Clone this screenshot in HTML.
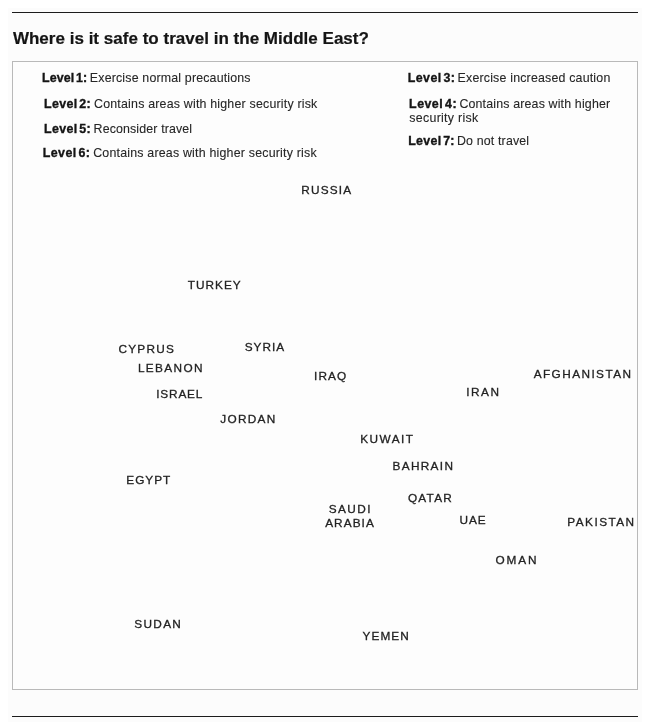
<!DOCTYPE html>
<html lang="en">
<head>
<meta charset="utf-8">
<title>Where is it safe to travel in the Middle East?</title>
<style>
html,body{margin:0;padding:0;}
body{width:650px;height:728px;position:relative;overflow:hidden;background:#ffffff;font-family:"Liberation Sans", sans-serif;}
.page{position:absolute;left:8px;top:8px;width:634px;height:714px;background:#fcfcfc;}
.rule{position:absolute;left:12px;width:626px;height:1px;background:#1c1c1c;}
.box{position:absolute;left:12px;top:61px;width:624px;height:627px;border:1px solid #b9b9b9;background:#fdfdfd;box-sizing:content-box;}
.t{position:absolute;white-space:nowrap;line-height:14px;height:14px;margin:0;padding:0;}
h1.t{line-height:20px;height:20px;font-size:17px;font-weight:700;color:#141414;-webkit-text-stroke:0.2px #141414;}
.lg{font-size:12.4px;color:#262626;}
.lg span{-webkit-text-stroke:0.1px #262626;}
.lg b{-webkit-text-stroke:0.35px #141414;}
.lg b{font-weight:700;color:#141414;}
.c{font-size:11.8px;color:#222222;-webkit-text-stroke:0.3px #222222;}
</style>
</head>
<body>
<div class="page"></div>
<div class="rule" style="top:12px"></div>
<div class="box"></div>
<h1 class="t" style="left:12.90px;top:29px;letter-spacing:0.018px">Where is it safe to travel in the Middle East?</h1>
<div class="t lg" style="left:42.10px;top:71px"><b style="letter-spacing:0.114px;word-spacing:-2px">Level 1:</b><span style="margin-left:2.70px;letter-spacing:0.169px">Exercise normal precautions</span></div>
<div class="t lg" style="left:44.10px;top:97px"><b style="letter-spacing:0.357px;word-spacing:-2px">Level 2:</b><span style="margin-left:2.95px;letter-spacing:0.197px">Contains areas with higher security risk</span></div>
<div class="t lg" style="left:44.10px;top:122px"><b style="letter-spacing:0.357px;word-spacing:-2px">Level 5:</b><span style="margin-left:2.45px;letter-spacing:0.134px">Reconsider travel</span></div>
<div class="t lg" style="left:42.75px;top:146px"><b style="letter-spacing:0.443px;word-spacing:-2px">Level 6:</b><span style="margin-left:2.70px;letter-spacing:0.203px">Contains areas with higher security risk</span></div>
<div class="t lg" style="left:407.75px;top:71px"><b style="letter-spacing:0.443px;word-spacing:-2px">Level 3:</b><span style="margin-left:2.15px;letter-spacing:0.184px">Exercise increased caution</span></div>
<div class="t lg" style="left:409.10px;top:97px"><b style="letter-spacing:0.471px;word-spacing:-2px">Level 4:</b><span style="margin-left:2.40px;letter-spacing:0.160px">Contains areas with higher</span></div>
<div class="t lg" style="left:409.35px;top:111px"><span style="letter-spacing:0.283px">security risk</span></div>
<div class="t lg" style="left:408.25px;top:134px"><b style="letter-spacing:0.300px;word-spacing:-2px">Level 7:</b><span style="margin-left:2.15px;letter-spacing:0.158px">Do not travel</span></div>
<div class="t c" style="left:301.35px;top:183px;letter-spacing:1.170px">RUSSIA</div>
<div class="t c" style="left:187.85px;top:278px;letter-spacing:0.980px">TURKEY</div>
<div class="t c" style="left:118.45px;top:342px;letter-spacing:1.270px">CYPRUS</div>
<div class="t c" style="left:244.65px;top:340px;letter-spacing:1.013px">SYRIA</div>
<div class="t c" style="left:137.95px;top:361px;letter-spacing:1.375px">LEBANON</div>
<div class="t c" style="left:313.95px;top:369px;letter-spacing:1.167px">IRAQ</div>
<div class="t c" style="left:533.65px;top:367px;letter-spacing:1.430px">AFGHANISTAN</div>
<div class="t c" style="left:156.25px;top:387px;letter-spacing:0.830px">ISRAEL</div>
<div class="t c" style="left:466.25px;top:385px;letter-spacing:1.500px">IRAN</div>
<div class="t c" style="left:220.20px;top:412px;letter-spacing:1.320px">JORDAN</div>
<div class="t c" style="left:360.15px;top:432px;letter-spacing:1.480px">KUWAIT</div>
<div class="t c" style="left:392.50px;top:459px;letter-spacing:1.333px">BAHRAIN</div>
<div class="t c" style="left:126.30px;top:473px;letter-spacing:1.000px">EGYPT</div>
<div class="t c" style="left:407.95px;top:491px;letter-spacing:1.250px">QATAR</div>
<div class="t c" style="left:328.75px;top:502px;letter-spacing:1.425px">SAUDI</div>
<div class="t c" style="left:325.15px;top:516px;letter-spacing:1.080px">ARABIA</div>
<div class="t c" style="left:459.50px;top:513px;letter-spacing:0.875px">UAE</div>
<div class="t c" style="left:567.30px;top:515px;letter-spacing:1.457px">PAKISTAN</div>
<div class="t c" style="left:495.45px;top:553px;letter-spacing:1.917px">OMAN</div>
<div class="t c" style="left:134.30px;top:617px;letter-spacing:1.312px">SUDAN</div>
<div class="t c" style="left:362.55px;top:629px;letter-spacing:1.050px">YEMEN</div>
<div class="rule" style="top:716px"></div>
</body>
</html>
